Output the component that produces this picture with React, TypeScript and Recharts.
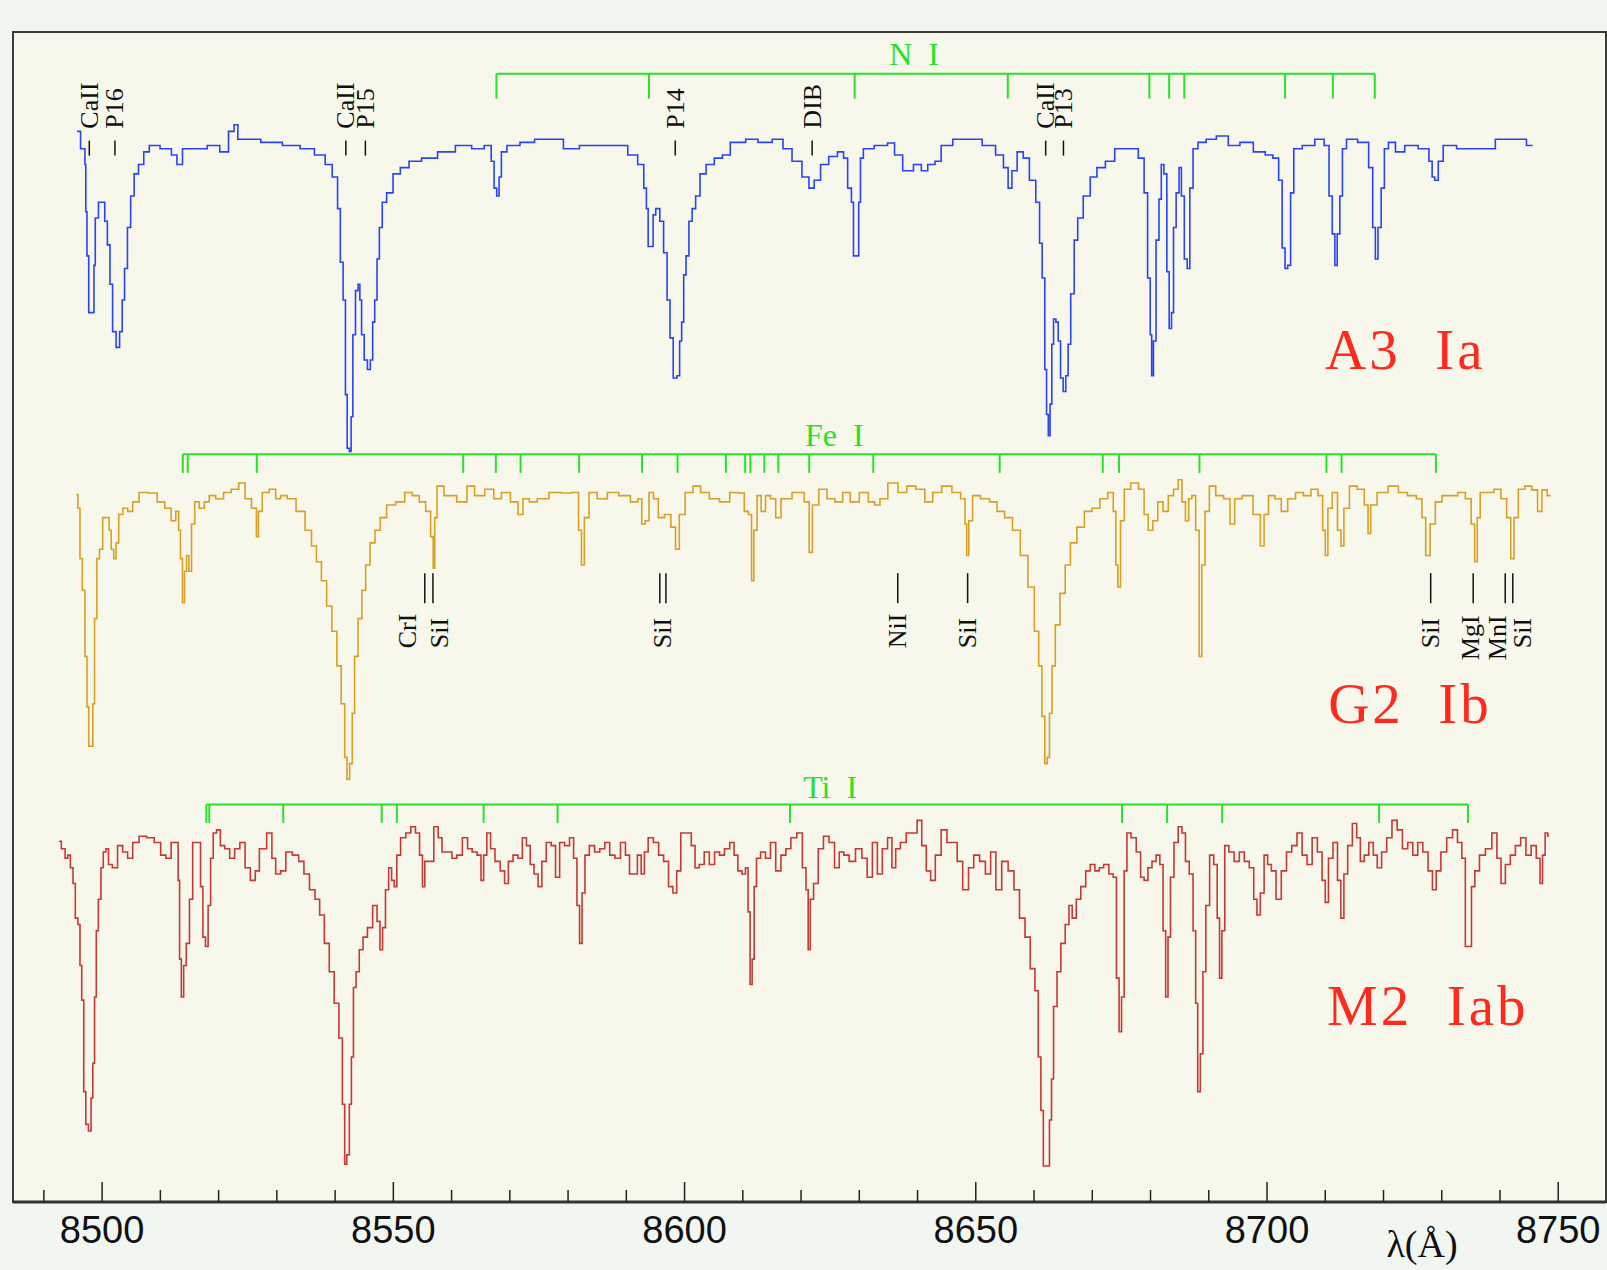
import React from "react";
import { ComposedChart, Line, Scatter, XAxis, YAxis, ReferenceLine, ReferenceArea } from "recharts";

// [wavelength (Å), normalised flux]
const a3Spectrum: [number, number][] = [
  [8495.7, 1.035], [8496.9, 0.98], [8497.2, 0.93], [8497.2, 0.78], [8497.6, 0.64], [8497.8, 0.46], [8498.6, 0.46], [8498.6, 0.61],
  [8499.05, 0.76], [8499.7, 0.81], [8500.3, 0.81], [8500.6, 0.75], [8501.2, 0.675], [8501.5, 0.55], [8502.1, 0.4], [8502.7, 0.35],
  [8503.3, 0.4], [8503.6, 0.5], [8504.1, 0.6], [8504.6, 0.73], [8505.2, 0.83], [8505.8, 0.9], [8506.7, 0.93], [8507.6, 0.97],
  [8508.6, 0.99], [8511.3, 0.98], [8512.5, 0.96], [8513.2, 0.93], [8514.4, 0.98], [8516.8, 0.98], [8519.3, 0.99], [8521.1, 0.97],
  [8522.3, 1.035], [8523.0, 1.056], [8523.6, 1.01], [8525.4, 1.01], [8529.1, 1.0], [8532.8, 0.99], [8535.2, 0.98], [8537.7, 0.96],
  [8538.9, 0.93], [8540.1, 0.89], [8540.75, 0.79], [8541.05, 0.62], [8541.7, 0.5], [8541.85, 0.2], [8542.3, 0.03], [8542.6, 0.02],
  [8542.9, 0.13], [8543.2, 0.39], [8543.8, 0.53], [8544.1, 0.55], [8544.4, 0.5], [8544.7, 0.39], [8545.3, 0.31], [8545.8, 0.28],
  [8546.3, 0.31], [8546.6, 0.43], [8547.0, 0.5], [8547.4, 0.63], [8547.8, 0.73], [8548.4, 0.81], [8549.3, 0.84], [8550.6, 0.9],
  [8551.8, 0.92], [8553.6, 0.94], [8556.1, 0.95], [8559.1, 0.97], [8562.2, 0.99], [8564.7, 0.98], [8566.5, 0.99], [8567.1, 0.94],
  [8567.5, 0.855], [8568.0, 0.83], [8568.3, 0.89], [8568.8, 0.97], [8570.2, 0.99], [8573.3, 1.0], [8575.2, 1.01], [8577.7, 1.01],
  [8580.7, 0.98], [8583.2, 0.99], [8589.3, 0.99], [8591.2, 0.96], [8592.7, 0.93], [8593.3, 0.855], [8593.6, 0.79], [8593.9, 0.67],
  [8594.5, 0.67], [8594.7, 0.77], [8595.4, 0.79], [8596.1, 0.75], [8596.7, 0.65], [8597.3, 0.5], [8597.7, 0.38], [8598.4, 0.253],
  [8599.0, 0.26], [8599.3, 0.37], [8599.7, 0.43], [8600.0, 0.58], [8600.5, 0.64], [8601.0, 0.75], [8601.6, 0.79], [8602.2, 0.83],
  [8603.1, 0.9], [8604.3, 0.93], [8605.9, 0.95], [8607.1, 0.96], [8608.6, 1.0], [8609.6, 1.0], [8611.4, 1.01], [8613.8, 1.0],
  [8616.3, 1.01], [8617.5, 0.98], [8619.4, 0.94], [8620.9, 0.89], [8621.8, 0.855], [8622.7, 0.88], [8624.0, 0.93], [8625.5, 0.955],
  [8627.0, 0.97], [8627.6, 0.95], [8628.4, 0.855], [8628.9, 0.81], [8629.1, 0.64], [8629.8, 0.64], [8630.0, 0.81], [8630.4, 0.95],
  [8631.0, 0.98], [8634.1, 0.99], [8635.6, 0.998], [8636.5, 0.96], [8638.4, 0.91], [8640.2, 0.93], [8641.1, 0.91], [8642.4, 0.93],
  [8643.6, 0.94], [8644.5, 0.99], [8647.6, 1.01], [8649.7, 1.01], [8652.5, 0.99], [8654.3, 0.96], [8655.2, 0.92], [8655.9, 0.855],
  [8656.5, 0.91], [8657.7, 0.97], [8658.6, 0.95], [8659.8, 0.88], [8660.8, 0.81], [8661.1, 0.68], [8661.7, 0.57], [8662.0, 0.28],
  [8662.3, 0.137], [8662.6, 0.07], [8662.9, 0.17], [8663.2, 0.36], [8663.5, 0.44], [8664.0, 0.43], [8664.3, 0.37], [8664.8, 0.253],
  [8665.2, 0.21], [8665.7, 0.26], [8666.0, 0.36], [8666.6, 0.52], [8667.2, 0.69], [8667.8, 0.76], [8669.1, 0.83], [8670.2, 0.89],
  [8671.4, 0.92], [8673.1, 0.94], [8674.6, 0.98], [8677.2, 0.98], [8678.6, 0.95], [8679.2, 0.84], [8679.8, 0.57], [8680.1, 0.39],
  [8680.3, 0.26], [8680.7, 0.37], [8681.2, 0.69], [8681.7, 0.82], [8682.0, 0.93], [8682.6, 0.9], [8683.0, 0.59], [8683.4, 0.41],
  [8683.8, 0.46], [8684.1, 0.73], [8684.7, 0.84], [8685.1, 0.92], [8685.5, 0.83], [8686.1, 0.63], [8686.5, 0.6], [8687.0, 0.855],
  [8687.6, 0.98], [8688.7, 1.0], [8690.4, 1.01], [8692.2, 1.02], [8694.5, 0.99], [8696.2, 1.0], [8699.1, 0.97], [8700.3, 0.96],
  [8701.7, 0.95], [8702.3, 0.88], [8702.9, 0.665], [8703.3, 0.6], [8703.8, 0.61], [8704.3, 0.84], [8704.9, 0.98], [8707.2, 0.99],
  [8709.2, 1.01], [8710.4, 0.99], [8710.9, 0.83], [8711.5, 0.71], [8711.8, 0.61], [8712.3, 0.71], [8712.7, 0.83], [8713.2, 0.98],
  [8714.1, 1.01], [8717.0, 1.0], [8717.9, 0.92], [8718.4, 0.73], [8718.8, 0.63], [8719.3, 0.73], [8719.9, 0.855], [8720.4, 0.98],
  [8721.3, 1.0], [8722.8, 0.97], [8724.5, 0.99], [8727.4, 0.98], [8728.2, 0.94], [8728.5, 0.89], [8729.1, 0.88], [8729.7, 0.94],
  [8730.8, 0.99], [8734.3, 0.98], [8737.2, 0.98], [8741.2, 1.01], [8743.5, 1.01], [8745.6, 0.99],
];

const g2Spectrum: [number, number][] = [
  [8495.6, 0.983], [8496.1, 0.94], [8496.3, 0.78], [8496.9, 0.68], [8497.2, 0.47], [8497.6, 0.31], [8497.8, 0.185], [8498.3, 0.185],
  [8498.5, 0.32], [8498.9, 0.59], [8499.3, 0.78], [8499.8, 0.81], [8500.4, 0.91], [8501.1, 0.91], [8501.3, 0.87], [8501.8, 0.81],
  [8502.2, 0.78], [8502.6, 0.83], [8503.1, 0.92], [8504.0, 0.94], [8504.8, 0.93], [8505.7, 0.96], [8507.0, 0.99], [8508.8, 0.988],
  [8510.1, 0.96], [8511.4, 0.94], [8512.3, 0.9], [8513.0, 0.93], [8513.3, 0.87], [8513.6, 0.78], [8514.0, 0.64], [8514.3, 0.74],
  [8514.7, 0.79], [8515.1, 0.74], [8515.6, 0.89], [8516.2, 0.96], [8517.1, 0.94], [8518.0, 0.96], [8518.8, 0.98], [8520.2, 0.97],
  [8521.5, 0.99], [8522.8, 1.0], [8524.1, 1.02], [8525.0, 0.97], [8526.3, 0.94], [8526.7, 0.85], [8527.0, 0.93], [8528.0, 0.99],
  [8529.4, 1.0], [8530.2, 0.97], [8531.1, 0.98], [8532.4, 0.97], [8534.2, 0.93], [8535.5, 0.87], [8536.4, 0.82], [8537.2, 0.77],
  [8538.1, 0.71], [8539.0, 0.63], [8539.9, 0.55], [8540.7, 0.44], [8541.4, 0.32], [8541.9, 0.15], [8542.2, 0.08], [8542.8, 0.13],
  [8543.1, 0.29], [8543.6, 0.47], [8544.3, 0.59], [8544.9, 0.68], [8545.6, 0.76], [8546.4, 0.83], [8547.3, 0.87], [8548.2, 0.91],
  [8549.5, 0.95], [8551.3, 0.96], [8552.6, 0.99], [8553.9, 0.98], [8555.0, 0.96], [8556.1, 0.93], [8556.7, 0.85], [8557.0, 0.75],
  [8557.2, 0.91], [8557.8, 1.01], [8559.6, 0.98], [8562.2, 0.96], [8563.1, 1.01], [8564.8, 0.98], [8566.6, 1.0], [8567.9, 0.97],
  [8569.2, 0.99], [8571.0, 0.96], [8571.8, 0.92], [8572.7, 0.97], [8574.0, 0.96], [8575.4, 0.97], [8578.0, 0.99], [8579.7, 0.988],
  [8581.5, 0.99], [8582.1, 0.87], [8582.5, 0.76], [8583.1, 0.91], [8584.1, 0.99], [8585.9, 0.97], [8587.6, 0.99], [8589.8, 0.98],
  [8591.6, 0.96], [8592.4, 0.97], [8592.9, 0.89], [8593.6, 0.9], [8594.2, 0.99], [8595.1, 0.97], [8595.9, 0.91], [8597.2, 0.92],
  [8598.1, 0.88], [8598.8, 0.81], [8599.4, 0.92], [8600.8, 0.99], [8602.1, 1.01], [8603.4, 0.99], [8605.1, 0.97], [8606.9, 0.96],
  [8608.6, 0.99], [8609.9, 0.988], [8610.6, 0.93], [8611.3, 0.92], [8611.7, 0.71], [8612.1, 0.87], [8612.8, 0.98], [8613.5, 0.93],
  [8614.3, 0.98], [8615.2, 0.97], [8616.1, 0.91], [8617.0, 0.97], [8619.9, 0.99], [8621.2, 0.96], [8621.6, 0.8], [8622.3, 0.95],
  [8623.8, 1.0], [8625.1, 0.97], [8626.5, 0.96], [8627.8, 0.99], [8629.1, 0.96], [8630.9, 0.99], [8632.2, 0.96], [8633.1, 0.95],
  [8634.0, 0.97], [8635.8, 1.02], [8637.5, 0.99], [8638.8, 1.01], [8640.6, 1.0], [8641.9, 0.96], [8643.3, 0.99], [8645.0, 1.01],
  [8646.8, 0.99], [8648.0, 0.97], [8648.3, 0.89], [8648.6, 0.79], [8649.0, 0.9], [8649.9, 0.98], [8651.7, 0.97], [8653.0, 0.96],
  [8654.3, 0.93], [8655.6, 0.91], [8657.0, 0.87], [8658.3, 0.79], [8659.6, 0.69], [8660.5, 0.55], [8661.1, 0.44], [8661.6, 0.28],
  [8662.1, 0.13], [8662.4, 0.15], [8662.9, 0.29], [8663.3, 0.44], [8664.0, 0.57], [8664.9, 0.67], [8665.8, 0.76], [8666.7, 0.83],
  [8668.0, 0.88], [8669.3, 0.93], [8670.6, 0.94], [8672.0, 0.97], [8673.3, 0.99], [8673.9, 0.93], [8674.2, 0.76], [8674.6, 0.69],
  [8675.1, 0.9], [8675.9, 1.0], [8677.3, 1.02], [8678.6, 1.0], [8679.2, 0.92], [8680.0, 0.87], [8680.8, 0.9], [8681.7, 0.96],
  [8682.6, 0.93], [8683.5, 0.98], [8684.4, 1.0], [8685.1, 1.03], [8685.7, 0.96], [8686.3, 0.9], [8686.8, 0.97], [8687.4, 0.98],
  [8688.1, 0.87], [8688.6, 0.47], [8689.0, 0.76], [8689.7, 0.93], [8690.5, 1.01], [8691.9, 0.98], [8693.2, 0.97], [8694.1, 0.89],
  [8694.8, 0.97], [8696.7, 0.98], [8698.5, 0.92], [8699.2, 0.82], [8699.8, 0.92], [8700.7, 0.98], [8702.0, 0.97], [8702.9, 0.93],
  [8704.2, 0.97], [8705.6, 0.99], [8706.9, 0.98], [8708.2, 1.0], [8709.3, 0.98], [8709.8, 0.87], [8710.2, 0.79], [8710.7, 0.94],
  [8711.7, 0.99], [8712.5, 0.87], [8712.9, 0.82], [8713.5, 0.94], [8714.8, 1.01], [8716.2, 1.0], [8717.2, 0.95], [8717.5, 0.86],
  [8718.1, 0.95], [8719.7, 0.99], [8721.9, 1.01], [8723.2, 0.99], [8725.0, 0.98], [8726.3, 0.97], [8726.9, 0.91], [8727.6, 0.79],
  [8728.4, 0.89], [8729.4, 0.96], [8730.7, 0.98], [8732.1, 0.98], [8733.4, 0.99], [8734.7, 0.97], [8735.4, 0.89], [8735.9, 0.77],
  [8736.3, 0.91], [8736.9, 0.99], [8738.3, 0.99], [8739.6, 1.0], [8740.7, 0.97], [8741.6, 0.91], [8742.1, 0.78], [8742.7, 0.91],
  [8743.6, 1.0], [8744.9, 1.01], [8746.0, 0.998], [8746.9, 0.93], [8747.5, 0.998], [8748.7, 0.98],
];

const m2Spectrum: [number, number][] = [
  [8492.6, 1.044], [8493.4, 1.02], [8493.9, 0.99], [8494.3, 1.0], [8494.8, 0.96], [8495.2, 0.91], [8495.6, 0.8], [8496.1, 0.78],
  [8496.3, 0.65], [8496.7, 0.54], [8497.0, 0.25], [8497.4, 0.146], [8497.9, 0.125], [8498.3, 0.23], [8498.5, 0.34], [8498.9, 0.55],
  [8499.1, 0.76], [8499.6, 0.86], [8500.0, 0.96], [8500.4, 1.01], [8500.9, 1.02], [8501.3, 0.97], [8502.2, 0.96], [8503.1, 1.03],
  [8503.95, 1.01], [8504.8, 0.99], [8505.7, 1.04], [8507.0, 1.06], [8508.3, 1.055], [8509.6, 1.04], [8510.5, 1.0], [8511.4, 0.99],
  [8512.3, 1.04], [8512.9, 1.04], [8513.2, 0.92], [8513.4, 0.67], [8513.8, 0.55], [8514.2, 0.65], [8514.7, 0.72], [8515.3, 0.86],
  [8515.8, 1.04], [8516.7, 1.04], [8517.1, 0.9], [8517.5, 0.74], [8518.0, 0.71], [8518.4, 0.84], [8518.85, 0.99], [8519.3, 1.07],
  [8520.0, 1.08], [8520.6, 1.03], [8521.5, 1.02], [8522.3, 0.99], [8523.2, 1.02], [8524.1, 1.04], [8525.0, 0.96], [8525.9, 0.92],
  [8526.7, 0.95], [8527.3, 1.02], [8528.0, 1.02], [8528.5, 1.07], [8528.9, 1.07], [8529.4, 0.99], [8530.2, 0.94], [8531.1, 0.95],
  [8532.0, 1.01], [8533.3, 1.0], [8534.2, 0.98], [8535.1, 0.94], [8536.1, 0.89], [8537.0, 0.86], [8537.7, 0.81], [8538.6, 0.72],
  [8539.4, 0.63], [8540.3, 0.53], [8541.0, 0.42], [8541.5, 0.21], [8541.8, 0.02], [8542.2, 0.05], [8542.7, 0.21], [8542.9, 0.36],
  [8543.4, 0.58], [8543.8, 0.63], [8544.5, 0.7], [8545.1, 0.74], [8546.0, 0.77], [8546.9, 0.84], [8547.5, 0.79], [8547.9, 0.7],
  [8548.4, 0.77], [8548.9, 0.89], [8549.5, 0.96], [8549.9, 0.92], [8550.4, 0.9], [8550.8, 1.0], [8551.7, 1.055], [8552.6, 1.07],
  [8553.4, 1.09], [8554.2, 1.07], [8554.8, 1.0], [8555.2, 0.9], [8555.6, 0.98], [8556.5, 0.98], [8557.4, 1.09], [8558.0, 1.055],
  [8558.7, 1.01], [8559.6, 1.01], [8560.5, 0.99], [8561.3, 1.0], [8562.4, 1.055], [8563.1, 1.02], [8563.96, 1.01], [8564.8, 1.0],
  [8565.3, 0.92], [8565.7, 1.0], [8566.4, 1.07], [8567.0, 1.02], [8567.9, 0.98], [8568.8, 0.95], [8569.4, 0.91], [8570.1, 0.98],
  [8571.0, 1.0], [8571.8, 0.99], [8572.5, 1.055], [8573.2, 1.03], [8573.8, 0.97], [8574.5, 0.94], [8575.2, 0.9], [8575.8, 0.98],
  [8576.7, 1.04], [8577.5, 1.03], [8578.2, 0.93], [8578.9, 1.04], [8579.9, 1.03], [8580.6, 1.055], [8581.3, 0.99], [8581.75, 0.84],
  [8582.2, 0.72], [8582.6, 0.88], [8583.2, 1.0], [8584.1, 1.03], [8585.0, 1.01], [8585.9, 1.02], [8586.7, 1.04], [8587.6, 1.0],
  [8588.5, 0.99], [8589.5, 1.04], [8590.2, 1.0], [8590.9, 0.94], [8591.6, 0.94], [8592.2, 1.0], [8592.9, 0.94], [8593.3, 1.01],
  [8594.2, 1.055], [8595.1, 1.04], [8596.0, 1.0], [8596.8, 0.98], [8597.7, 0.9], [8598.3, 0.88], [8599.0, 0.95], [8599.7, 1.07],
  [8600.8, 1.07], [8601.5, 1.03], [8602.1, 0.96], [8602.95, 0.97], [8603.8, 1.01], [8604.7, 0.97], [8605.6, 1.01], [8606.4, 1.0],
  [8607.3, 1.02], [8608.2, 1.04], [8608.8, 1.0], [8609.5, 0.95], [8610.2, 0.94], [8610.7, 0.96], [8611.1, 0.82], [8611.4, 0.59],
  [8611.8, 0.67], [8612.1, 0.9], [8612.6, 0.99], [8613.5, 1.01], [8614.3, 0.99], [8615.2, 1.04], [8616.1, 0.95], [8617.0, 1.0],
  [8617.8, 1.02], [8618.7, 1.055], [8619.85, 1.07], [8620.6, 0.96], [8621.1, 0.89], [8621.35, 0.7], [8621.8, 0.86], [8622.5, 0.91],
  [8623.4, 1.02], [8624.3, 1.06], [8625.3, 1.04], [8626.2, 0.96], [8626.9, 1.01], [8627.8, 1.0], [8628.7, 0.98], [8630.0, 1.02],
  [8630.9, 0.99], [8631.8, 0.93], [8632.7, 1.04], [8633.5, 0.94], [8634.4, 1.02], [8635.3, 1.055], [8635.9, 0.96], [8636.6, 1.02],
  [8637.5, 1.04], [8638.6, 1.07], [8639.5, 1.07], [8640.35, 1.11], [8641.1, 1.03], [8641.9, 0.95], [8642.6, 0.92], [8643.5, 1.0],
  [8644.6, 1.08], [8645.5, 1.04], [8646.4, 1.04], [8647.2, 0.98], [8648.3, 0.89], [8649.2, 0.96], [8650.1, 1.0], [8651.2, 0.98],
  [8652.1, 0.94], [8653.0, 1.01], [8653.9, 0.89], [8655.0, 0.98], [8656.1, 0.95], [8657.0, 0.89], [8658.0, 0.8], [8658.9, 0.74],
  [8659.8, 0.64], [8660.5, 0.57], [8660.95, 0.36], [8661.4, 0.19], [8661.8, 0.014], [8662.4, 0.014], [8662.9, 0.16], [8663.1, 0.29],
  [8663.6, 0.52], [8664.3, 0.63], [8664.9, 0.72], [8665.8, 0.78], [8666.2, 0.84], [8666.9, 0.8], [8667.6, 0.86], [8668.45, 0.9],
  [8669.3, 0.95], [8670.0, 0.97], [8670.9, 0.95], [8671.5, 0.96], [8672.4, 0.97], [8673.3, 0.94], [8673.9, 0.93], [8674.4, 0.61],
  [8674.8, 0.44], [8675.25, 0.55], [8675.7, 0.95], [8676.2, 1.07], [8677.1, 1.055], [8678.0, 1.01], [8678.6, 0.93], [8679.2, 0.92],
  [8679.9, 0.96], [8680.6, 0.98], [8681.3, 1.0], [8681.9, 0.97], [8682.4, 0.76], [8682.8, 0.55], [8683.2, 0.74], [8683.65, 0.93],
  [8684.4, 1.04], [8685.1, 1.09], [8685.7, 1.07], [8686.3, 0.98], [8687.0, 0.94], [8687.6, 0.76], [8687.9, 0.53], [8688.3, 0.25],
  [8688.8, 0.37], [8689.2, 0.63], [8689.8, 0.84], [8690.5, 1.0], [8691.2, 0.97], [8691.7, 0.8], [8692.0, 0.61], [8692.5, 0.76],
  [8693.0, 1.03], [8693.9, 1.01], [8694.8, 0.98], [8695.7, 1.01], [8696.5, 0.98], [8697.4, 0.96], [8698.05, 0.86], [8698.5, 0.81],
  [8699.2, 0.88], [8699.8, 1.0], [8700.4, 0.97], [8701.1, 0.95], [8702.0, 0.86], [8702.9, 0.95], [8703.8, 1.01], [8704.7, 1.03],
  [8705.6, 1.07], [8706.45, 1.0], [8707.3, 0.97], [8708.2, 1.055], [8709.1, 1.01], [8709.8, 0.92], [8710.2, 0.85], [8710.9, 0.99],
  [8711.75, 1.04], [8712.45, 0.92], [8712.9, 0.8], [8713.5, 0.94], [8714.2, 1.03], [8715.1, 1.1], [8715.7, 1.055], [8716.35, 0.98],
  [8717.05, 1.0], [8717.9, 1.04], [8718.6, 1.0], [8719.25, 0.96], [8720.1, 1.01], [8721.0, 1.055], [8721.9, 1.11], [8722.8, 1.08],
  [8723.7, 1.02], [8724.6, 1.04], [8725.45, 1.0], [8726.3, 1.04], [8727.2, 1.01], [8728.1, 0.95], [8728.7, 0.89], [8729.4, 0.95],
  [8730.3, 1.01], [8731.4, 1.055], [8732.3, 1.08], [8733.1, 1.04], [8733.8, 0.99], [8734.3, 0.71], [8734.9, 0.71], [8735.3, 0.9],
  [8736.05, 0.95], [8736.9, 1.0], [8738.1, 1.02], [8739.1, 1.07], [8739.85, 0.99], [8740.5, 0.91], [8741.35, 0.97], [8742.2, 1.0],
  [8743.1, 1.03], [8744.0, 1.055], [8744.9, 1.0], [8745.8, 1.03], [8746.65, 0.99], [8747.1, 0.91], [8747.5, 1.0], [8748.0, 1.07],
  [8748.4, 1.06],
];

// vertical offsets stacking the three spectra
const A3_OFFSET = 2.36;
const G2_OFFSET = 1.26;
const M2_OFFSET = 0.1;

// multiplet markers (wavelengths)
const nITicks = [8567.7, 8593.9, 8629.2, 8655.5, 8679.8, 8683.2, 8685.8, 8703.1, 8711.3, 8718.5];
const feITicks = [
  8513.85, 8514.7, 8526.55, 8562.0, 8567.6, 8571.85, 8581.9, 8592.7, 8598.8, 8607.1, 8610.4, 8611.3,
  8613.7, 8616.1, 8621.4, 8632.4, 8654.1, 8671.8, 8674.6, 8688.4, 8710.2, 8712.8, 8729.0,
];
const tiITicks = [8517.9, 8518.4, 8531.1, 8548.0, 8550.6, 8565.5, 8578.2, 8618.1, 8675.1, 8682.85, 8692.3, 8719.25, 8734.5];

// line identifications
const a3Ids = [
  { w: 8497.8, label: "CaII" }, { w: 8502.2, label: "P16" }, { w: 8541.85, label: "CaII" }, { w: 8545.2, label: "P15" },
  { w: 8598.4, label: "P14" }, { w: 8621.9, label: "DIB" }, { w: 8662.0, label: "CaII" }, { w: 8665.05, label: "P13" },
];
const g2IdTicks = [8555.4, 8556.8, 8595.75, 8596.8, 8636.6, 8648.6, 8728.1, 8735.4, 8740.9, 8742.2];
const g2IdLabels = [
  { w: 8552.5, label: "CrI" }, { w: 8558.0, label: "SiI" }, { w: 8596.2, label: "SiI" }, { w: 8636.6, label: "NiI" },
  { w: 8648.6, label: "SiI" }, { w: 8728.1, label: "SiI" }, { w: 8743.8, label: "SiI" },
];
const g2IdLabelsLow = [{ w: 8735.0, label: "MgI" }, { w: 8739.6, label: "MnI" }];

const spectralTypes = ["A3\u00a0\u00a0Ia", "G2\u00a0\u00a0Ib", "M2\u00a0\u00a0Iab"];
const elementNames = ["N\u00a0\u00a0I", "Fe\u00a0\u00a0I", "Ti\u00a0\u00a0I"];

const xTicks = [
  8490, 8500, 8510, 8520, 8530, 8540, 8550, 8560, 8570, 8580, 8590, 8600, 8610, 8620,
  8630, 8640, 8650, 8660, 8670, 8680, 8690, 8700, 8710, 8720, 8730, 8740, 8750,
];

// layout
const W_MIN = 8484.7;
const W_MAX = 8758.2;
const Y_MAX = 3.71;
const GREEN = "#27e327";
const RED = "#ff2a1e";
const SERIF = "'Liberation Serif', 'DejaVu Serif', serif";

const toData = (s: [number, number][], off: number) => s.map(([w, f]) => ({ w, y: f + off }));
const a3Data = toData(a3Spectrum, A3_OFFSET);
const g2Data = toData(g2Spectrum, G2_OFFSET);
const m2Data = toData(m2Spectrum, M2_OFFSET);

const a3IdData = a3Ids.map((d) => ({ ...d, y: 3.318 }));
const g2TickData = g2IdTicks.map((w) => ({ w, y: 1.994 }));
const g2LabelData = [
  ...g2IdLabels.map((d) => ({ ...d, y: 1.756 })),
  ...g2IdLabelsLow.map((d) => ({ ...d, y: 1.718 })),
];
const typeData = [
  { w: 8709.97, y: 2.64, label: spectralTypes[0] },
  { w: 8710.5, y: 1.518, label: spectralTypes[1] },
  { w: 8710.3, y: 0.561, label: spectralTypes[2] },
];
const elementData = [
  { w: 8639.4, y: 3.604, label: elementNames[0] },
  { w: 8625.7, y: 2.396, label: elementNames[1] },
  { w: 8625.0, y: 1.28, label: elementNames[2] },
];

const brackets = [
  { ticks: nITicks, top: 3.578, bottom: 3.499 },
  { ticks: feITicks, top: 2.371, bottom: 2.312 },
  { ticks: tiITicks, top: 1.2605, bottom: 1.202 },
];

// eslint-disable-next-line @typescript-eslint/no-explicit-any
function A3Id(props: any) {
  const { cx, cy, payload } = props;
  return (
    <g>
      <line x1={cx} x2={cx} y1={cy} y2={cy - 15} stroke="#111" strokeWidth={1.5} />
      <text x={cx} y={cy - 27} transform={`rotate(-90 ${cx} ${cy - 27})`} dominantBaseline="central"
        fontFamily={SERIF} fontSize={26} fill="#111">{payload.label}</text>
    </g>
  );
}

// eslint-disable-next-line @typescript-eslint/no-explicit-any
function G2Tick(props: any) {
  const { cx, cy } = props;
  return <line x1={cx} x2={cx} y1={cy} y2={cy + 30} stroke="#111" strokeWidth={1.5} />;
}

// eslint-disable-next-line @typescript-eslint/no-explicit-any
function G2Label(props: any) {
  const { cx, cy, payload } = props;
  return (
    <text x={cx} y={cy} transform={`rotate(-90 ${cx} ${cy})`} dominantBaseline="central"
      fontFamily={SERIF} fontSize={26} fill="#111">{payload.label}</text>
  );
}

// eslint-disable-next-line @typescript-eslint/no-explicit-any
function TypeLabel(props: any) {
  const { cx, cy, payload } = props;
  return (
    <text x={cx} y={cy} fontFamily={SERIF} fontSize={57} letterSpacing={3} fill={RED}>{payload.label}</text>
  );
}

// eslint-disable-next-line @typescript-eslint/no-explicit-any
function ElementLabel(props: any) {
  const { cx, cy, payload } = props;
  return (
    <text x={cx} y={cy} textAnchor="middle" fontFamily={SERIF} fontSize={32} fill={GREEN}>{payload.label}</text>
  );
}

// eslint-disable-next-line @typescript-eslint/no-explicit-any
function WaveTick(props: any) {
  const { x, y, payload } = props;
  const major = payload.value % 50 === 0;
  return (
    <g>
      <line x1={x} x2={x} y1={y} y2={y - (major ? 20 : 12)} stroke="#222" strokeWidth={1.5} />
      {major && (
        <text x={x} y={y + 41} textAnchor="middle" fontFamily="'Liberation Sans', Arial, sans-serif"
          fontSize={38} fill="#111">{payload.value}</text>
      )}
    </g>
  );
}

// eslint-disable-next-line @typescript-eslint/no-explicit-any
function LambdaLabel(props: any) {
  const vb = props.viewBox;
  if (!vb) return null;
  return (
    <text x={vb.x + vb.width * 0.8845} y={vb.y + 55} textAnchor="middle"
      fontFamily={SERIF} fontSize={38} fill="#111">λ(Å)</text>
  );
}

export default function App() {
  return (
    <div style={{ position: "absolute", left: 0, top: 0, width: 1607, height: 1270, background: "#f2f6f1" }}>
      <ComposedChart width={1607} height={1270} margin={{ top: 32, right: 1, bottom: 0, left: 13 }}>
        <XAxis
          dataKey="w"
          type="number"
          domain={[W_MIN, W_MAX]}
          allowDataOverflow
          ticks={xTicks}
          interval={0}
          height={68}
          tickSize={0}
          tickMargin={0}
          tickLine={false}
          tick={<WaveTick />}
          axisLine={{ stroke: "#333", strokeWidth: 3 }}
          label={<LambdaLabel />}
        />
        <YAxis type="number" domain={[0, Y_MAX]} allowDataOverflow hide />
        <ReferenceArea x1={W_MIN} x2={W_MAX} y1={0} y2={Y_MAX} fill="#f7f7ec" fillOpacity={1}
          stroke="#3a3a3a" strokeWidth={2} ifOverflow="visible" />

        {brackets.map((b, i) => [
          <ReferenceLine key={`h${i}`} segment={[{ x: b.ticks[0], y: b.top }, { x: b.ticks[b.ticks.length - 1], y: b.top }]}
            stroke={GREEN} strokeWidth={2} />,
          ...b.ticks.map((w, j) => (
            <ReferenceLine key={`t${i}-${j}`} segment={[{ x: w, y: b.top }, { x: w, y: b.bottom }]}
              stroke={GREEN} strokeWidth={2} />
          )),
        ])}

        <Line data={a3Data} dataKey="y" type="step" stroke="#2a44f4" strokeWidth={1.6} dot={false} isAnimationActive={false} />
        <Line data={g2Data} dataKey="y" type="step" stroke="#d6a125" strokeWidth={1.6} dot={false} isAnimationActive={false} />
        <Line data={m2Data} dataKey="y" type="step" stroke="#c43a34" strokeWidth={1.6} dot={false} isAnimationActive={false} />

        <Scatter data={a3IdData} dataKey="y" shape={A3Id} isAnimationActive={false} />
        <Scatter data={g2TickData} dataKey="y" shape={G2Tick} isAnimationActive={false} />
        <Scatter data={g2LabelData} dataKey="y" shape={G2Label} isAnimationActive={false} />
        <Scatter data={typeData} dataKey="y" shape={TypeLabel} isAnimationActive={false} />
        <Scatter data={elementData} dataKey="y" shape={ElementLabel} isAnimationActive={false} />
      </ComposedChart>
    </div>
  );
}
